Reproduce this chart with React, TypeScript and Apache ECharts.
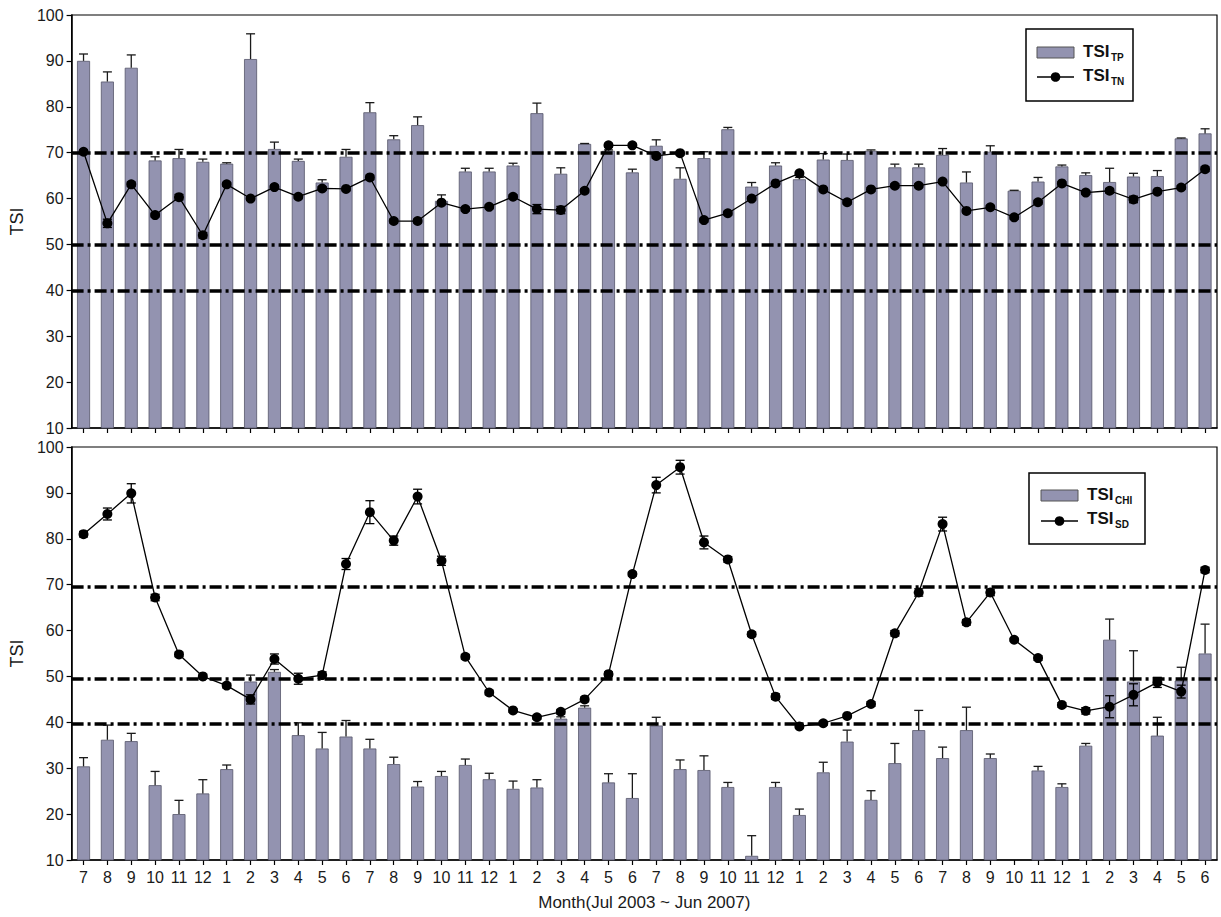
import React, { useEffect, useRef } from 'react';
import * as echarts from 'echarts';

const months = [
  '7', '8', '9', '10', '11', '12', '1', '2', '3', '4', '5', '6',
  '7', '8', '9', '10', '11', '12', '1', '2', '3', '4', '5', '6',
  '7', '8', '9', '10', '11', '12', '1', '2', '3', '4', '5', '6',
  '7', '8', '9', '10', '11', '12', '1', '2', '3', '4', '5', '6',
];

const yTicks = [10, 20, 30, 40, 50, 60, 70, 80, 90, 100];

// Top panel
const tsiTP = [
  90.0, 85.5, 88.5, 68.3, 68.8, 68.0, 67.6, 90.4, 70.8, 68.2, 63.5, 69.1,
  78.8, 72.9, 76.0, 59.5, 65.9, 65.9, 67.2, 78.6, 65.4, 71.9, 70.4, 65.7,
  71.5, 64.3, 68.8, 75.1, 62.6, 67.2, 64.2, 68.5, 68.4, 70.4, 66.8, 66.8,
  69.5, 63.5, 70.2, 61.7, 63.7, 67.0, 65.1, 63.6, 64.8, 64.9, 73.1, 74.2,
];
const tsiTPErrTop = [
  91.5, 87.6, 91.3, 69.1, 70.7, 68.6, 67.8, 95.9, 72.3, 68.6, 64.1, 70.7,
  80.9, 73.7, 77.8, 60.8, 66.6, 66.6, 67.7, 80.8, 66.7, 72.0, 70.6, 66.4,
  72.8, 66.7, 70.2, 75.5, 63.5, 67.8, 64.6, 69.8, 69.7, 70.6, 67.5, 67.5,
  70.9, 65.8, 71.5, 61.8, 64.6, 67.3, 65.6, 66.6, 65.5, 66.1, 73.2, 75.2,
];
const tsiTN = [
  70.2, 54.6, 63.1, 56.4, 60.3, 52.0, 63.1, 60.0, 62.5, 60.4, 62.2, 62.1,
  64.6, 55.1, 55.1, 59.1, 57.7, 58.2, 60.4, 57.7, 57.5, 61.7, 71.6, 71.6,
  69.3, 69.9, 55.3, 56.8, 60.0, 63.3, 65.5, 62.0, 59.2, 62.0, 62.8, 62.8,
  63.7, 57.3, 58.1, 55.9, 59.2, 63.3, 61.3, 61.7, 59.8, 61.5, 62.4, 66.4,
];
const tsiTNErr = [
  0.4, 0.9, 0.5, 0.4, 0.6, 0.6, 0.4, 0.4, 0.4, 0.4, 0.4, 0.4,
  0.5, 0.4, 0.4, 0.4, 0.4, 0.4, 0.4, 1.0, 0.8, 0.4, 0.4, 0.4,
  0.5, 0.4, 0.4, 0.4, 0.4, 0.3, 0.3, 0.4, 0.4, 0.4, 0.4, 0.4,
  0.4, 0.4, 0.4, 0.4, 0.4, 0.4, 0.4, 0.5, 0.7, 0.4, 0.4, 0.5,
];

// Bottom panel
const tsiCHl: (number | null)[] = [
  30.4, 36.2, 35.9, 26.3, 20.0, 24.5, 29.8, 48.9, 51.0, 37.2, 34.3, 36.9,
  34.3, 30.9, 26.0, 28.3, 30.7, 27.6, 25.5, 25.8, 40.8, 43.2, 26.9, 23.5,
  39.3, 29.8, 29.6, 25.9, 10.9, 25.9, 19.8, 29.1, 35.8, 23.1, 31.1, 38.3,
  32.2, 38.3, 32.2, null, 29.5, 25.9, 34.9, 58.0, 48.9, 37.1, 49.1, 55.0,
];
const tsiCHlErrTop: (number | null)[] = [
  32.3, 39.4, 37.6, 29.3, 23.0, 27.5, 30.7, 50.3, 51.5, 39.9, 37.8, 40.4,
  36.3, 32.4, 27.1, 29.3, 32.0, 28.9, 27.2, 27.5, 41.2, 43.6, 28.8, 28.8,
  41.1, 31.8, 32.7, 26.9, 15.3, 26.9, 21.1, 31.3, 38.3, 25.1, 35.4, 42.6,
  34.6, 43.3, 33.1, null, 30.4, 26.6, 35.4, 62.5, 55.6, 41.1, 52.0, 61.4,
];
const tsiSD = [
  81.0, 85.4, 89.9, 67.2, 54.8, 50.0, 48.0, 45.0, 53.8, 49.5, 50.3, 74.5,
  85.8, 79.6, 89.2, 75.2, 54.3, 46.5, 42.6, 41.1, 42.3, 45.0, 50.5, 72.3,
  91.7, 95.6, 79.2, 75.5, 59.2, 45.6, 39.1, 39.8, 41.4, 44.0, 59.4, 68.3,
  83.2, 61.8, 68.3, 58.0, 54.0, 43.8, 42.5, 43.4, 46.0, 48.7, 46.7, 73.2,
];
const tsiSDErr = [
  0.6, 1.3, 2.1, 0.7, 0.5, 0.5, 0.5, 1.0, 1.1, 1.2, 0.7, 1.2,
  2.5, 1.0, 1.6, 1.0, 0.5, 0.5, 0.4, 0.4, 0.5, 0.5, 0.5, 0.4,
  1.7, 1.5, 1.4, 0.6, 0.5, 0.6, 0.4, 0.4, 0.4, 0.5, 0.6, 0.8,
  1.5, 0.6, 0.7, 0.3, 0.5, 0.5, 0.7, 2.4, 2.4, 1.1, 1.4, 0.6,
];

const topRefLines = [70, 50, 40];
const bottomRefLines = [69.6, 49.6, 39.6];

const BAR_COLOR = '#9393b0';
const FONT = 'Liberation Sans, Arial, sans-serif';

const barErrRender = (params: any, api: any) => {
  const x = api.value(0);
  const v = api.value(1);
  const e = api.value(2);
  const p1 = api.coord([x, v]);
  const p2 = api.coord([x, e]);
  const w = 4.5;
  const style = { stroke: '#1a1a1a', lineWidth: 1.3 };
  return {
    type: 'group',
    children: [
      { type: 'line', shape: { x1: p1[0], y1: p1[1], x2: p2[0], y2: p2[1] }, style },
      { type: 'line', shape: { x1: p2[0] - w, y1: p2[1], x2: p2[0] + w, y2: p2[1] }, style },
    ],
  };
};

const lineErrRender = (params: any, api: any) => {
  const x = api.value(0);
  const lo = api.value(1);
  const hi = api.value(2);
  const p1 = api.coord([x, lo]);
  const p2 = api.coord([x, hi]);
  const w = 4.5;
  const style = { stroke: '#000', lineWidth: 1.3 };
  return {
    type: 'group',
    children: [
      { type: 'line', shape: { x1: p1[0], y1: p1[1], x2: p2[0], y2: p2[1] }, style },
      { type: 'line', shape: { x1: p1[0] - w, y1: p1[1], x2: p1[0] + w, y2: p1[1] }, style },
      { type: 'line', shape: { x1: p2[0] - w, y1: p2[1], x2: p2[0] + w, y2: p2[1] }, style },
    ],
  };
};

const makeXAxis = (gridIndex: number, showLabels: boolean) => ({
  type: 'category',
  gridIndex,
  data: months,
  boundaryGap: true,
  axisLine: { show: true, lineStyle: { color: '#000', width: 1.5 } },
  axisTick: { show: true, alignWithLabel: true, interval: 0, length: 5, lineStyle: { color: '#000', width: 1.2 } },
  axisLabel: {
    show: showLabels,
    interval: 0,
    fontSize: 16,
    color: '#1a1a1a',
    fontFamily: FONT,
    margin: 9,
  },
  splitLine: { show: false },
  ...(showLabels
    ? {
        name: 'Month(Jul 2003 ~ Jun 2007)',
        nameLocation: 'middle',
        nameGap: 34,
        nameTextStyle: { fontSize: 17, color: '#1a1a1a', fontFamily: FONT },
      }
    : {}),
});

const makeYAxis = (gridIndex: number) => ({
  type: 'value',
  gridIndex,
  min: yTicks[0],
  max: yTicks[yTicks.length - 1],
  interval: 10,
  axisLine: { show: true, lineStyle: { color: '#000', width: 1.5 } },
  axisTick: { show: true, length: 5, lineStyle: { color: '#000', width: 1.2 } },
  axisLabel: { fontSize: 16, color: '#1a1a1a', fontFamily: FONT, margin: 8 },
  splitLine: { show: false },
  name: 'TSI',
  nameLocation: 'middle',
  nameGap: 44,
  nameTextStyle: { fontSize: 18, color: '#1a1a1a', fontFamily: FONT },
});

const refMark = (vals: number[]) => ({
  symbol: 'none',
  silent: true,
  label: { show: false },
  lineStyle: { color: '#000', width: 3.5, type: [12, 4, 3, 4], opacity: 1 },
  emphasis: { disabled: true },
  data: vals.map((v) => ({ yAxis: v })),
});

const legendBox = (
  bx: number, by: number, bw: number, bh: number,
  patchX: number, patchY1: number, lineY: number,
  textX: number, t1Y: number, t2Y: number, sub1: string, sub2: string,
) => [
  { type: 'rect', shape: { x: bx, y: by, width: bw, height: bh }, style: { fill: '#fff', stroke: '#000', lineWidth: 1.5 }, z: 100 },
  { type: 'rect', shape: { x: patchX, y: patchY1, width: 37, height: 11 }, style: { fill: BAR_COLOR, stroke: '#555', lineWidth: 1 }, z: 101 },
  { type: 'line', shape: { x1: patchX, y1: lineY, x2: patchX + 37, y2: lineY }, style: { stroke: '#000', lineWidth: 1.3 }, z: 101 },
  { type: 'circle', shape: { cx: patchX + 18.5, cy: lineY, r: 4.8 }, style: { fill: '#000' }, z: 102 },
  { type: 'text', x: textX, y: t1Y, style: { text: 'TSI', fill: '#111', font: `bold 17px ${FONT}`, textAlign: 'left', textVerticalAlign: 'middle', align: 'left', verticalAlign: 'middle' }, z: 102 },
  { type: 'text', x: textX + 28, y: t1Y + 6, style: { text: sub1, fill: '#111', font: `bold 10px ${FONT}`, textAlign: 'left', textVerticalAlign: 'middle', align: 'left', verticalAlign: 'middle' }, z: 102 },
  { type: 'text', x: textX, y: t2Y, style: { text: 'TSI', fill: '#111', font: `bold 17px ${FONT}`, textAlign: 'left', textVerticalAlign: 'middle', align: 'left', verticalAlign: 'middle' }, z: 102 },
  { type: 'text', x: textX + 28, y: t2Y + 6, style: { text: sub2, fill: '#111', font: `bold 10px ${FONT}`, textAlign: 'left', textVerticalAlign: 'middle', align: 'left', verticalAlign: 'middle' }, z: 102 },
];

export default function App() {
  const ref = useRef<HTMLDivElement>(null);

  useEffect(() => {
    if (!ref.current) return;
    const chart = echarts.init(ref.current, null, { renderer: 'svg' });

    const tpErrData = tsiTP.map((v, i) => [i, v, tsiTPErrTop[i]]);
    const tnErrData = tsiTN.map((v, i) => [i, v - tsiTNErr[i], v + tsiTNErr[i]]);
    const chlErrData = tsiCHl
      .map((v, i) => (v == null || tsiCHlErrTop[i] == null ? null : [i, v, tsiCHlErrTop[i]]))
      .filter((d) => d !== null);
    const sdErrData = tsiSD.map((v, i) => [i, v - tsiSDErr[i], v + tsiSDErr[i]]);

    chart.setOption({
      animation: false,
      backgroundColor: '#fff',
      textStyle: { fontFamily: FONT },
      grid: [
        { left: 70, top: 15, width: 1147, height: 413, show: true, borderColor: '#000', borderWidth: 1.2, backgroundColor: 'transparent' },
        { left: 70, top: 447, width: 1147, height: 413, show: true, borderColor: '#000', borderWidth: 1.2, backgroundColor: 'transparent' },
      ],
      xAxis: [makeXAxis(0, false), makeXAxis(1, true)],
      yAxis: [makeYAxis(0), makeYAxis(1)],
      series: [
        {
          name: 'TSI_TP',
          type: 'bar',
          xAxisIndex: 0,
          yAxisIndex: 0,
          data: tsiTP,
          barWidth: 13,
          itemStyle: { color: BAR_COLOR, borderColor: '#55556a', borderWidth: 0.8 },
          markLine: refMark(topRefLines),
          z: 2,
        },
        {
          type: 'custom',
          xAxisIndex: 0,
          yAxisIndex: 0,
          renderItem: barErrRender,
          encode: { x: 0, y: [1, 2] },
          data: tpErrData,
          z: 3,
        },
        {
          type: 'custom',
          xAxisIndex: 0,
          yAxisIndex: 0,
          renderItem: lineErrRender,
          encode: { x: 0, y: [1, 2] },
          data: tnErrData,
          z: 9,
        },
        {
          name: 'TSI_TN',
          type: 'line',
          xAxisIndex: 0,
          yAxisIndex: 0,
          data: tsiTN,
          symbol: 'circle',
          symbolSize: 10,
          itemStyle: { color: '#000' },
          lineStyle: { color: '#000', width: 1.3 },
          z: 10,
        },
        {
          name: 'TSI_CHl',
          type: 'bar',
          xAxisIndex: 1,
          yAxisIndex: 1,
          data: tsiCHl.map((v) => (v == null ? '-' : v)),
          barWidth: 13,
          itemStyle: { color: BAR_COLOR, borderColor: '#55556a', borderWidth: 0.8 },
          markLine: refMark(bottomRefLines),
          z: 2,
        },
        {
          type: 'custom',
          xAxisIndex: 1,
          yAxisIndex: 1,
          renderItem: barErrRender,
          encode: { x: 0, y: [1, 2] },
          data: chlErrData,
          z: 3,
        },
        {
          type: 'custom',
          xAxisIndex: 1,
          yAxisIndex: 1,
          renderItem: lineErrRender,
          encode: { x: 0, y: [1, 2] },
          data: sdErrData,
          z: 9,
        },
        {
          name: 'TSI_SD',
          type: 'line',
          xAxisIndex: 1,
          yAxisIndex: 1,
          data: tsiSD,
          symbol: 'circle',
          symbolSize: 10,
          itemStyle: { color: '#000' },
          lineStyle: { color: '#000', width: 1.3 },
          z: 10,
        },
      ],
      graphic: [
        ...legendBox(1026, 29, 107, 72, 1037, 47, 77, 1083, 51, 75, 'TP', 'TN'),
        ...legendBox(1029, 473, 116, 71, 1041, 490, 521, 1087, 494, 518, 'CHI', 'SD'),
      ],
    });

    return () => chart.dispose();
  }, []);

  return (
    <div
      ref={ref}
      style={{ position: 'absolute', left: 0, top: 0, width: 1221, height: 917, background: '#fff' }}
    />
  );
}
